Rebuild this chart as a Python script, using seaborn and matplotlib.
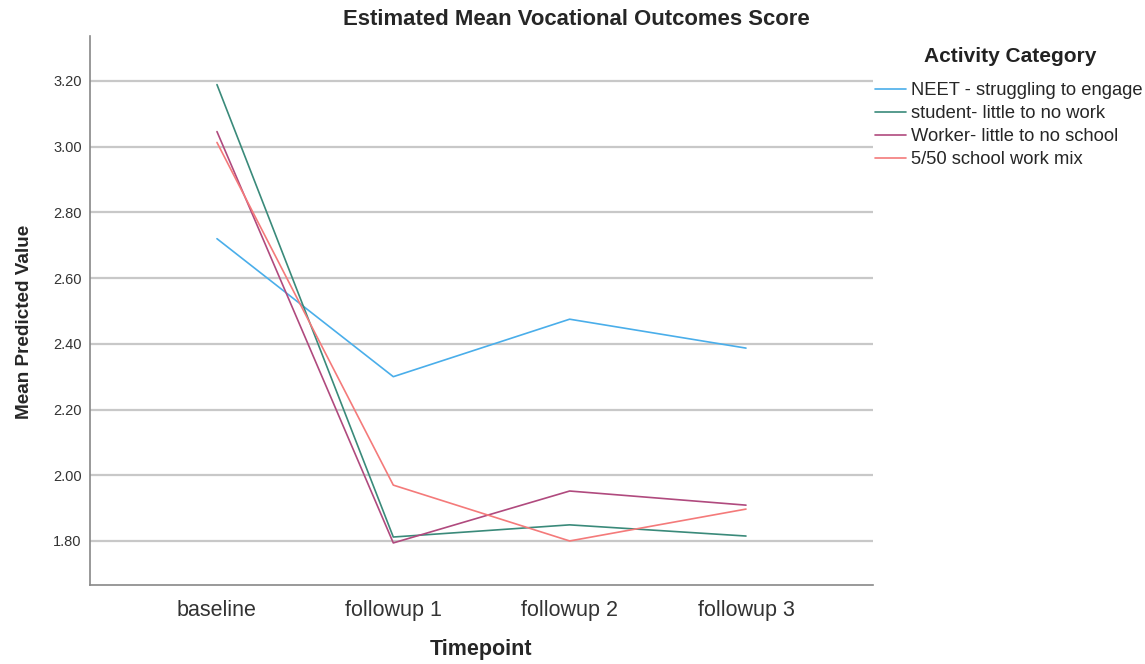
import matplotlib
matplotlib.use("Agg")
import matplotlib.pyplot as plt
import seaborn as sns
import pandas as pd

timepoints = ["baseline", "followup 1", "followup 2", "followup 3"]
categories = ["NEET - struggling to engage", "student- little to no work",
              "Worker- little to no school", "5/50 school work mix"]
neet = [2.72, 2.30, 2.475, 2.387]
student = [3.189, 1.812, 1.849, 1.815]
worker = [3.046, 1.794, 1.952, 1.909]
mix = [3.013, 1.970, 1.800, 1.897]
yticks = [1.80, 2.00, 2.20, 2.40, 2.60, 2.80, 3.00, 3.20]

colors = ["#4aaeea", "#3a8a7a", "#b04a7e", "#f47a7a"]

rows = []
for cat, vals in zip(categories, [neet, student, worker, mix]):
    for t, v in zip(timepoints, vals):
        rows.append({"Timepoint": t, "Activity Category": cat, "value": v})
df = pd.DataFrame(rows)

sns.set_style("white")
plt.rcParams["font.family"] = ["Liberation Sans", "DejaVu Sans"]

fig = plt.figure(figsize=(11.45, 6.64), dpi=100)
ax = fig.add_axes([0.0786, 0.119, 0.6838, 0.8268])

ax.yaxis.grid(True, color="#c8c8c8", linewidth=1.6)
ax.set_axisbelow(True)

sns.lineplot(data=df, x="Timepoint", y="value", hue="Activity Category",
             hue_order=categories, palette=colors, linewidth=1.2, ax=ax,
             sort=False)

ax.set_xlim(-0.72, 3.72)
ax.set_ylim(1.666, 3.337)
ax.set_yticks(yticks)
ax.set_yticklabels([f"{v:.2f}" for v in yticks])
ax.tick_params(axis="y", length=0, labelsize=10.5, labelcolor="#333333", pad=6)
ax.tick_params(axis="x", length=0, labelsize=15.5, labelcolor="#333333", pad=11)

for s in ["top", "right"]:
    ax.spines[s].set_visible(False)
for s in ["left", "bottom"]:
    ax.spines[s].set_color("#888888")
    ax.spines[s].set_linewidth(1.2)

ax.set_xlabel("Timepoint", fontsize=15.5, fontweight="bold", labelpad=13)
ax.set_ylabel("Mean Predicted Value", fontsize=13.6, fontweight="bold")
ax.yaxis.set_label_coords(-0.073, 0.479)

fig.suptitle("Estimated Mean Vocational Outcomes Score", fontsize=15.9,
             fontweight="bold", x=0.503, y=0.987)

leg = ax.legend(loc="upper left", frameon=False, fontsize=13.2,
                handlelength=1.7, handletextpad=0.28, labelspacing=0.33,
                borderaxespad=0.0, borderpad=0.0)
leg.set_bbox_to_anchor((875 / 1145, 1 - 82 / 664), transform=fig.transFigure)
fig.text(1010 / 1145, 1 - 57 / 664, "Activity Category", fontsize=15,
         fontweight="bold", ha="center", va="center", color="#222222")

fig.savefig("out.png", dpi=100)
